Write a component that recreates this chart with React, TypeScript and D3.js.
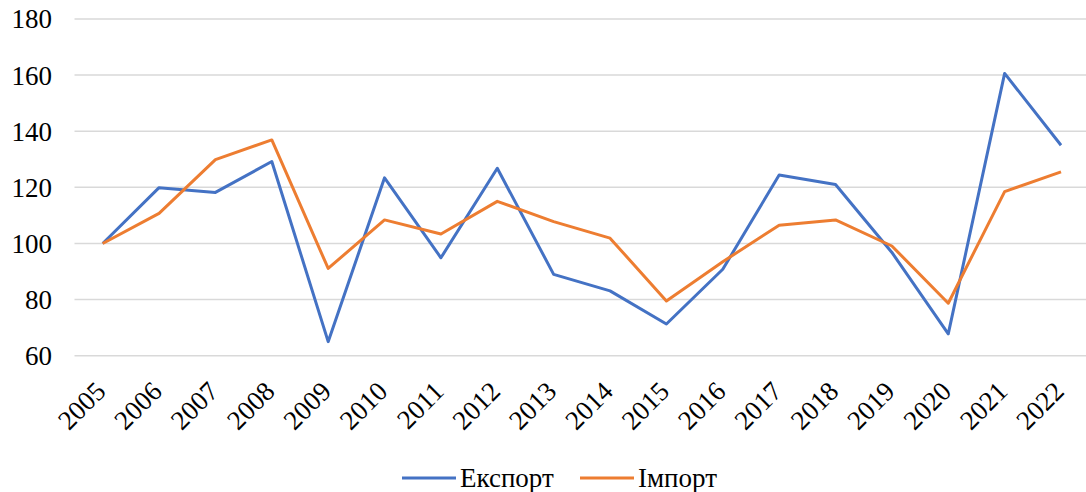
import React from "react";
import * as d3 from "d3";

const years = ["2005","2006","2007","2008","2009","2010","2011","2012","2013","2014","2015","2016","2017","2018","2019","2020","2021","2022"];
const exportValues = [100, 119.9, 118.2, 129.2, 65.0, 123.4, 94.9, 126.8, 89.0, 83.1, 71.3, 90.8, 124.4, 121.0, 96.8, 67.8, 160.6, 135.0];
const importValues = [100, 110.7, 129.9, 136.9, 91.1, 108.4, 103.4, 115.0, 107.8, 101.9, 79.5, 93.5, 106.5, 108.4, 99.1, 78.7, 118.5, 125.5];
const yTicks = [60, 80, 100, 120, 140, 160, 180];
const seriesNames = ["Експорт", "Імпорт"];
const colors = ["#4472C4", "#ED7D31"];

export default function App() {
  const W = 1086, H = 492;
  const left = 74.5, right = 1089.2, top = 19, bottom = 355.7;
  const x = d3.scaleBand<string>().domain(years).range([left, right]);
  const y = d3.scaleLinear().domain([60, 180]).range([bottom, top]);
  const line = d3.line<number>()
    .x((_, i) => (x(years[i]) as number) + x.bandwidth() / 2)
    .y((d) => y(d));
  const font = "'Liberation Serif', 'Times New Roman', serif";
  const series = [exportValues, importValues];
  const legendX = [402, 580];
  return (
    <svg width={W} height={H} style={{ position: "absolute", left: 0, top: 0, background: "#fff", fontFamily: font }}>
      {yTicks.map((t) => (
        <g key={t}>
          <line x1={left} x2={W} y1={y(t)} y2={y(t)} stroke="#d9d9d9" strokeWidth={1.5} />
          <text x={52} y={y(t)} dy="0.35em" textAnchor="end" fontSize={27} fill="#000" style={{ fontFamily: font }}>{t}</text>
        </g>
      ))}
      {years.map((yr) => {
        const cx = (x(yr) as number) + x.bandwidth() / 2 + 4.5;
        const cy = 393;
        return (
          <text key={yr} transform={`translate(${cx},${cy}) rotate(-45)`} textAnchor="end" fontSize={27} fill="#000" style={{ fontFamily: font }}>{yr}</text>
        );
      })}
      {series.map((s, i) => (
        <path key={i} d={line(s) || ""} fill="none" stroke={colors[i]} strokeWidth={3} strokeLinejoin="round" />
      ))}
      {seriesNames.map((n, i) => {
        const lx = legendX[i];
        return (
          <g key={n}>
            <line x1={lx} x2={lx + 54} y1={478} y2={478} stroke={colors[i]} strokeWidth={3} />
            <text x={lx + 58} y={478} dy="0.33em" fontSize={27} fill="#000" style={{ fontFamily: font }}>{n}</text>
          </g>
        );
      })}
    </svg>
  );
}
